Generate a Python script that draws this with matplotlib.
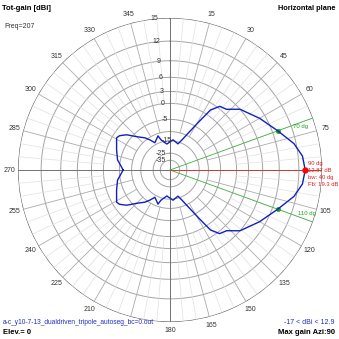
import numpy as np
import matplotlib.pyplot as plt

plt.rcParams['font.family'] = ['Liberation Sans', 'DejaVu Sans']

# horizontal-plane gain, one side of the symmetry axis (compass deg, 270..0..90)
az_half = [-90, -79, -69.3, -58.9, -55.8, -50.9, -45, -38, -33.7, -29,
           -19.4, -16.7, -7, 5.7, 17, 21.8, 27, 31, 34, 38, 43, 49, 60,
           70, 78, 84, 90]
gain_half = [-6.4, -4.0, -2.8, -1.2, -1.6, -3.2, -6.3, -8.9, -11.1, -13.8,
             -11.1, -13.6, -17.0, -14.3, -16.2, -13.0, -8.0, -3.0, 1.5, 3.5,
             4.0, 6.0, 8.0, 9.87, 11.7, 12.6, 12.87]

ring_levels = [15, 12, 9, 6, 3, 0, -5, -10, -15, -25, -35]
ring_labels = ['15', '12', '9', '6', '3', '0', '-5', '', '-15', '-25', '-35']
angle_labels = [a for a in range(0, 360, 15) if a not in (90, 195)]

max_gain = 12.87
max_az = 90
bw_lo, bw_hi = 70, 110
fb_ratio = 19.3
gain_min, gain_max = -17, 12.9

R = 152.0
K = 0.055


def rad(g):
    return R * np.exp(K * (np.asarray(g, dtype=float) - 15))


# mirror the half pattern about the 90/270 line
az_full = list(az_half) + [180 - a for a in az_half[::-1]]
gain_full = list(gain_half) + gain_half[::-1]
th = np.unwrap(np.radians(az_full))

fig = plt.figure(figsize=(3.39, 3.39), dpi=100)
fig.patch.set_facecolor('white')
ax = fig.add_axes([18 / 339, 17 / 339, 304 / 339, 304 / 339], projection='polar')
ax.set_theta_zero_location('N')
ax.set_theta_direction(-1)
ax.set_ylim(0, R)
ax.grid(False)
ax.set_xticks([])
ax.set_yticks([])
ax.spines['polar'].set_visible(False)

t = np.linspace(0, 2 * np.pi, 400)
# rings
for g in ring_levels:
    col = '#555555' if g == 15 else '#a4a4a4'
    ax.plot(t, np.full_like(t, rad(g)), color=col, lw=0.8 if g == 15 else 0.7)
# spokes
for a in range(0, 360, 5):
    if a % 90 == 0:
        continue
    if a % 15 == 0:
        ax.plot([np.radians(a)] * 2, [rad(-10), R], color='#ababab', lw=0.6)
    else:
        ax.plot([np.radians(a)] * 2, [rad(0), R], color='#e0e0e0', lw=0.5)
for a in (0, 90):
    ax.plot([np.radians(a), np.radians(a + 180)], [R, R], color='#707070', lw=0.7)

# angle labels
for a in angle_labels:
    if a == 0:
        ax.annotate('0', xy=(0, R + 10), xytext=(-7, 0), textcoords='offset points',
                    ha='center', va='center', fontsize=5, color='#333333')
        continue
    ax.text(np.radians(a), R + 9, str(a), ha='center', va='center', fontsize=5,
            color='#333333')
ax.annotate('Y', xy=(0, R + 10), xytext=(4, 0), textcoords='offset points',
            ha='center', va='center', fontsize=5, color='#333333')

# radial labels
for g, lab in zip(ring_levels, ring_labels):
    if not lab:
        continue
    if g <= -25:
        ax.annotate(lab, xy=(0, rad(g)), xytext=(-3, 0), textcoords='offset points',
                    ha='right', va='center', fontsize=5, color='#333333')
    else:
        ax.text(np.radians(354), rad(g), lab, ha='center', va='center', fontsize=5,
                color='#333333')

# beamwidth and max lines
for a in (bw_lo, bw_hi):
    ax.plot([0, np.radians(a)], [0, R], color='#40b040', lw=0.6)
    ax.plot(np.radians(a), rad(max_gain - 3), 'o', color='#20a020', ms=2.5)
ax.plot([0, np.radians(max_az)], [0, R], color='#e03030', lw=0.6)

# pattern
ax.plot(th, rad(gain_full), color='#1020c0', lw=1.0)
ax.plot(np.radians(max_az), rad(max_gain), 'o', color='#ff0000', ms=3.5)

ax.annotate('70 dg', xy=(np.radians(bw_lo), R), xytext=(-9, -6), textcoords='offset points',
            fontsize=4.3, color='#20a020', ha='center', va='center')
ax.annotate('110 dg', xy=(np.radians(bw_hi), R), xytext=(-4, 6), textcoords='offset points',
            fontsize=4.3, color='#20a020', ha='center', va='center')
rx = 308 / 339
fig.text(rx, 1 - 163 / 339, '%d dg' % max_az, fontsize=4.2, color='#e02020', va='center')
fig.text(rx, 1 - 170 / 339, '%.2f dB' % max_gain, fontsize=4.2, color='#e02020', va='center')
fig.text(rx, 1 - 177 / 339, 'bw: %d dg' % (bw_hi - bw_lo), fontsize=4.2, color='#e02020', va='center')
fig.text(rx, 1 - 185 / 339, 'Fb: %.1f dB' % fb_ratio, fontsize=4.2, color='#e02020', va='center')

fig.text(2 / 339, 1 - 8 / 339, 'Tot-gain [dBi]', fontsize=5.5, weight='bold', va='center')
fig.text(4 / 339, 1 - 26 / 339, 'Freq=207', fontsize=5, va='center', color='#333333')
fig.text(335 / 339, 1 - 8 / 339, 'Horizontal plane', fontsize=5.3, weight='bold',
         va='center', ha='right')
fig.text(3 / 339, 1 - 323 / 339, 'a-c_y10-7-13_dualdriven_tripole_autoseg_bc=0.out',
         fontsize=4.8, color='#2030c0', va='center')
fig.text(3 / 339, 1 - 332 / 339, 'Elev.= 0', fontsize=5.5, weight='bold', va='center')
fig.text(335 / 339, 1 - 322 / 339, '%d < dBi < %.1f' % (gain_min, gain_max), fontsize=5,
         color='#2030c0', va='center', ha='right')
fig.text(335 / 339, 1 - 332 / 339, 'Max gain Azi:%d' % max_az, fontsize=5.5, weight='bold',
         va='center', ha='right')

fig.savefig('out.png', dpi=100, facecolor='white')
